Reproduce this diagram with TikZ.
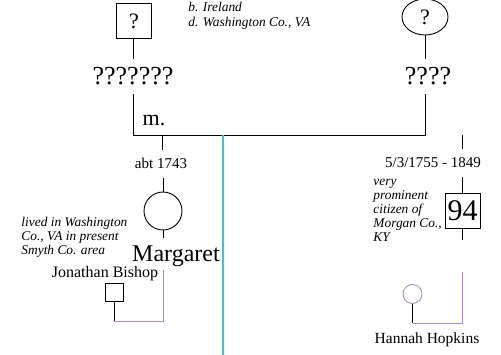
\documentclass[tikz,border=0pt]{standalone}
\usepackage{fontspec}
\setmainfont{Liberation Serif}
\usetikzlibrary{shapes.geometric}
\definecolor{tealline}{RGB}{72,192,206}
\definecolor{purp}{RGB}{170,142,202}
\begin{document}
\begin{tikzpicture}[x=1pt,y=-1pt,line width=0.9pt,
  bigname/.style={anchor=base,inner xsep=1pt,inner ysep=9pt,text height=17pt,text depth=0pt,font=\fontsize{26}{30}\selectfont},
  datelbl/.style={anchor=base,inner xsep=1pt,inner ysep=9pt,text height=10pt,text depth=0pt,font=\fontsize{15}{18}\selectfont},
  plainlbl/.style={anchor=base,inner sep=1pt,font=\fontsize{16}{19}\selectfont},
  note/.style={anchor=north west,inner sep=0pt,align=left,font=\itshape\fontsize{13.4}{14}\selectfont},
  malebox/.style={draw,rectangle,inner sep=0pt},
  femcirc/.style={draw,circle,inner sep=0pt},
  union/.style={draw=purp}]
\useasboundingbox (0,0) rectangle (501,355);

% top generation
\node[malebox,minimum size=35pt,font=\fontsize{22}{26}\selectfont] (fa) at (134,21) {?};
\node[bigname] (faname) at (133,85) {???????};
\node[draw,ellipse,minimum width=46pt,minimum height=36pt,inner sep=0pt,font=\fontsize{22}{26}\selectfont] (mo) at (425,17) {?};
\node[bigname] (moname) at (428,85) {????};
\node[note,font=\itshape\fontsize{13.4}{15}\selectfont] (topnote) at (188,2) {b. Ireland\\d. Washington Co., VA};

\coordinate (barL) at (133,135);
\coordinate (barR) at (425,135);
\draw (fa.south -| barL) -- (faname.north -| barL);
\draw (mo.south -| barR) -- (moname.north -| barR);
\draw (faname.south -| barL) -- (barL) -- (barR) -- (moname.south -| barR);
\node[anchor=base,inner sep=0pt,font=\fontsize{22}{26}\selectfont] (mlbl) at (154,126) {m.};

% teal line
\coordinate (t1) at (223,135);
\coordinate (t2) at (223,355);
\draw[tealline,line width=1.2pt] (t1) -- (t2);

% left child
\coordinate (c1) at (162,135);
\node[datelbl] (d1) at (161,169) {abt 1743};
\node[femcirc,minimum size=38pt] (marg) at (163,211) {};
\draw (c1) -- (c1 |- d1.north);
\draw (d1.south -| marg) -- (marg.north);
\node[anchor=base,inner xsep=1pt,inner ysep=8pt,text height=16pt,text depth=5pt,font=\fontsize{24}{28}\selectfont] (margname) at (176,262) {Margaret};
\draw (marg.south) -- (marg.south |- margname.north);
\node[note] (n1) at (21,217) {lived in Washington\\Co., VA in present\\Smyth Co. area};
\node[plainlbl] (jname) at (105,278) {Jonathan Bishop};
\node[malebox,minimum size=18pt] (jon) at (114,292.5) {};
\coordinate (u1a) at (163,270);
\coordinate (u1b) at (163,321);
\coordinate (u1c) at (114,321);
\draw[purp] (u1a) -- (u1b) -- (u1c);
\draw (jon.south) -- (u1c);

% right child
\coordinate (c2) at (462,135);
\node[datelbl] (d2) at (433,168) {5/3/1755 - 1849};
\node[malebox,minimum size=35pt,font=\fontsize{30}{34}\selectfont] (b94) at (462.5,210.5) {94};
\draw (c2) -- (c2 |- d2.north);
\draw (d2.south -| c2) -- (b94.north -| c2);
\coordinate (e2) at (462,240);
\draw (b94.south -| c2) -- (e2);
\node[note] (n2) at (373,179) {very\\prominent\\citizen of\\Morgan Co.,\\KY};
\node[draw=purp,circle,inner sep=0pt,minimum size=19pt] (han) at (412.5,294) {};
\coordinate (u2a) at (462,272);
\coordinate (u2b) at (462,323);
\coordinate (u2c) at (412.5,323);
\draw[purp] (u2a) -- (u2b) -- (u2c);
\draw (han.south) -- (u2c);
\node[anchor=base,inner sep=1pt,font=\fontsize{15.5}{18}\selectfont] (hname) at (427,344) {Hannah Hopkins};
\end{tikzpicture}
\end{document}
